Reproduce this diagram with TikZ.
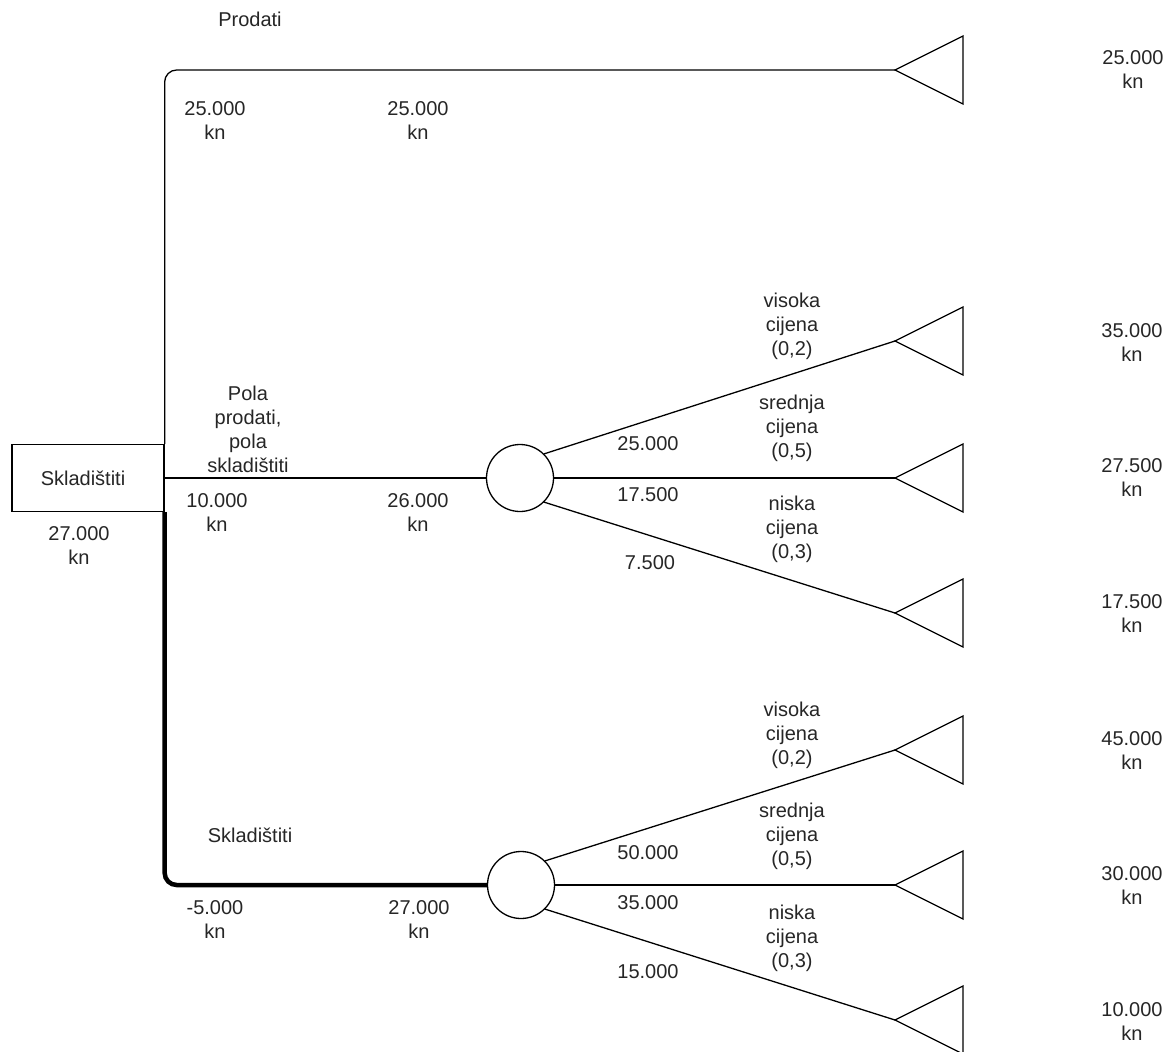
\documentclass[tikz,border=0pt]{standalone}
\usepackage{fontspec}
\setmainfont{Liberation Sans}
\definecolor{txt}{HTML}{262626}
\begin{document}
\begin{tikzpicture}[x=1pt,y=-1pt,
  lbl/.style={font=\fontsize{20}{24}\selectfont, align=center, inner sep=0pt, text=txt},
  edge/.style={draw=black, line width=1.3pt},
  thickedge/.style={draw=black, line width=4.5pt},
  chance/.style={circle, draw=black, line width=1.3pt, minimum size=67pt, inner sep=0pt, fill=white},
  decbox/.style={rectangle, draw=black, line width=1.3pt, minimum width=152pt, minimum height=67pt, inner sep=0pt, fill=white, font=\fontsize{20}{24}\selectfont, text=txt},
  endtri/.style={draw=black, line width=1.3pt, line join=miter}
]
\useasboundingbox (0,0) rectangle (1174,1051);

% decision box and chance nodes
\node[decbox] (box) at (88,478) {\hspace*{-10pt}Skladištiti};
\node[chance] (c1) at (520,478) {};
\node[chance] (c2) at (521,885) {};

% triangle tips
\coordinate (t0) at (895,70);
\coordinate (m1) at (895,341);
\coordinate (m2) at (895,478);
\coordinate (m3) at (895,613);
\coordinate (b1) at (895,750);
\coordinate (b2) at (895,885);
\coordinate (b3) at (895,1020);

% edges from decision
\draw[edge, rounded corners=12pt] (box.north east) |- (t0);
\draw[edge] (box.east) -- (c1.west);
\draw[thickedge, rounded corners=12pt] (box.south east) |- (c2.west);

% chance branches
\draw[edge] (c1.north east) -- (m1);
\draw[edge] (c1.east) -- (m2);
\draw[edge] (c1.south east) -- (m3);
\draw[edge] (c2.north east) -- (b1);
\draw[edge] (c2.east) -- (b2);
\draw[edge] (c2.south east) -- (b3);

% end triangles
\foreach \t in {t0,m1,m2,m3,b1,b2,b3}{
  \draw[endtri] (\t) -- ++(68,-34) -- ++(0,68) -- cycle;
}

% labels
\node[lbl] (lprodati) at (250,19) {Prodati};
\node[lbl] (lp1) at (215,121) {25.000\\kn};
\node[lbl] (lp2) at (418,121) {25.000\\kn};
\node[lbl] (lp3) at (1133,70) {25.000\\kn};

\node[lbl] (lpola) at (248,429) {Pola\\prodati,\\pola\\skladištiti};
\node[lbl] (lh1) at (217,513) {10.000\\kn};
\node[lbl] (lh2) at (418,513) {26.000\\kn};
\node[lbl] (lroot) at (79,546) {27.000\\kn};

\node[lbl] (mv) at (792,326) {visoka\\cijena\\(0,2)};
\node[lbl] (mv2) at (648,444) {25.000};
\node[lbl] (ms) at (792,428) {srednja\\cijena\\(0,5)};
\node[lbl] (ms2) at (648,495) {17.500};
\node[lbl] (mn) at (792,529) {niska\\cijena\\(0,3)};
\node[lbl] (mn2) at (650,563) {7.500};
\node[lbl] (mr1) at (1132,343) {35.000\\kn};
\node[lbl] (mr2) at (1132,478) {27.500\\kn};
\node[lbl] (mr3) at (1132,614) {17.500\\kn};

\node[lbl] (lskl) at (250,835) {Skladištiti};
\node[lbl] (ls1) at (215,920) {-5.000\\kn};
\node[lbl] (ls2) at (419,920) {27.000\\kn};

\node[lbl] (bv) at (792,735) {visoka\\cijena\\(0,2)};
\node[lbl] (bv2) at (648,853) {50.000};
\node[lbl] (bs) at (792,836) {srednja\\cijena\\(0,5)};
\node[lbl] (bs2) at (648,903) {35.000};
\node[lbl] (bn) at (792,938) {niska\\cijena\\(0,3)};
\node[lbl] (bn2) at (648,972) {15.000};
\node[lbl] (br1) at (1132,751) {45.000\\kn};
\node[lbl] (br2) at (1132,886) {30.000\\kn};
\node[lbl] (br3) at (1132,1022) {10.000\\kn};
\end{tikzpicture}
\end{document}
